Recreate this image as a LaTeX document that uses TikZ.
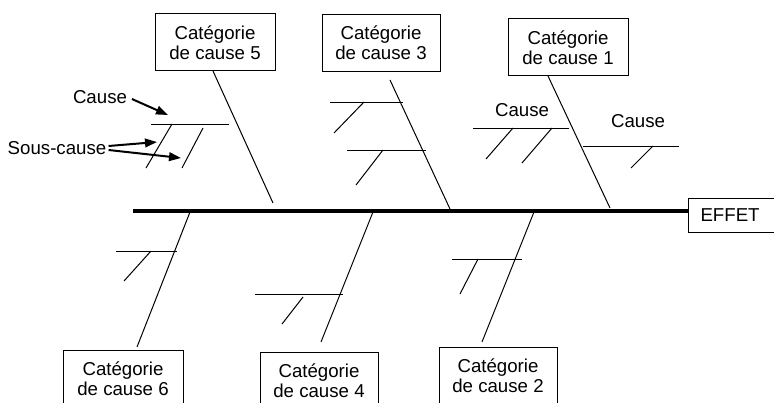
\documentclass[tikz,border=0pt]{standalone}
\usepackage{fontspec}
\setmainfont{Liberation Sans}
\usetikzlibrary{arrows.meta}
\begin{document}
\begin{tikzpicture}[x=0.75pt,y=-0.75pt,
  every node/.style={font=\fontsize{14pt}{15pt}\selectfont},
  catbox/.style={draw, line width=0.75pt, align=center, minimum width=90pt, minimum height=42.75pt, inner sep=0pt},
  bone/.style={line width=0.75pt},
  spine/.style={line width=2.6pt},
  lbl/.style={inner sep=1.5pt},
  arr/.style={line width=1.5pt, -{Triangle[length=9pt,width=6.5pt]}}]
\useasboundingbox (0,0) rectangle (774,403);

% category boxes
\node[catbox] (c5) at (215,42.5) {Catégorie\\de cause 5};
\node[catbox, minimum width=88.5pt] (c3) at (381,43) {Catégorie\\de cause 3};
\node[catbox] (c1) at (568,47.5) {Catégorie\\de cause 1};
\node[catbox] (c6) at (123,378.5) {Catégorie\\de cause 6};
\node[catbox, minimum width=88.5pt] (c4) at (319,380.5) {Catégorie\\de cause 4};
\node[catbox, minimum width=88.5pt] (c2) at (498,375.5) {Catégorie\\de cause 2};

% effect
\node[draw, line width=0.75pt, anchor=west, minimum height=25.5pt, text width=62pt, inner xsep=9pt, align=left] (effet) at (688,215) {EFFET};

% spine
\coordinate (tail) at (133,211);
\draw[spine] (tail) -- (tail -| effet.west);

% bone end points
\coordinate (b5a) at (213,71);  \coordinate (b5b) at (273,203);
\coordinate (b3a) at (390,80);  \coordinate (b3b) at (450,209);
\coordinate (b1a) at (548,76);  \coordinate (b1b) at (610,208);
\coordinate (b6a) at (190,212); \coordinate (b6b) at (137,347);
\coordinate (b4a) at (373,212); \coordinate (b4b) at (321,342);
\coordinate (b2a) at (534,212); \coordinate (b2b) at (482,342);
\draw[bone] (b5a) -- (b5b);
\draw[bone] (b3a) -- (b3b);
\draw[bone] (b1a) -- (b1b);
\draw[bone] (b6a) -- (b6b);
\draw[bone] (b4a) -- (b4b);
\draw[bone] (b2a) -- (b2b);

% causes and sub-causes
\draw[bone] (151,124) -- (229,124);
\draw[bone] (172,124) -- (146,168);
\draw[bone] (203,128) -- (182,168);

\draw[bone] (330,102) -- (403,102);
\draw[bone] (364,102) -- (334,133);
\draw[bone] (347,150) -- (426,150);
\draw[bone] (383,150) -- (356,185);

\draw[bone] (473,128) -- (569,128);
\draw[bone] (513,128) -- (486,159);
\draw[bone] (552,128) -- (522,163);
\draw[bone] (583,146) -- (679,146);
\draw[bone] (653,146) -- (631,168);

\draw[bone] (116,251) -- (177,251);
\draw[bone] (151,251) -- (124,281);
\draw[bone] (255,294) -- (343,294);
\draw[bone] (303,297) -- (282,324);
\draw[bone] (452,259) -- (522,259);
\draw[bone] (478,259) -- (460,294);

% labels
\node[lbl] (lc) at (100,97) {Cause};
\node[lbl] (lsc) at (57,148) {Sous-cause};
\node[lbl] (lc1) at (522,110) {Cause};
\node[lbl] (lc2) at (638,121) {Cause};

% arrows
\coordinate (t1) at (168,115);
\coordinate (t2) at (157,142);
\coordinate (t3) at (181,158);
\draw[arr] ([xshift=2pt,yshift=-1.5pt]lc.east) -- (t1);
\draw[arr] ([yshift=1.5pt]lsc.east) -- (t2);
\draw[arr] ([yshift=-1.5pt]lsc.east) -- (t3);
\end{tikzpicture}
\end{document}
